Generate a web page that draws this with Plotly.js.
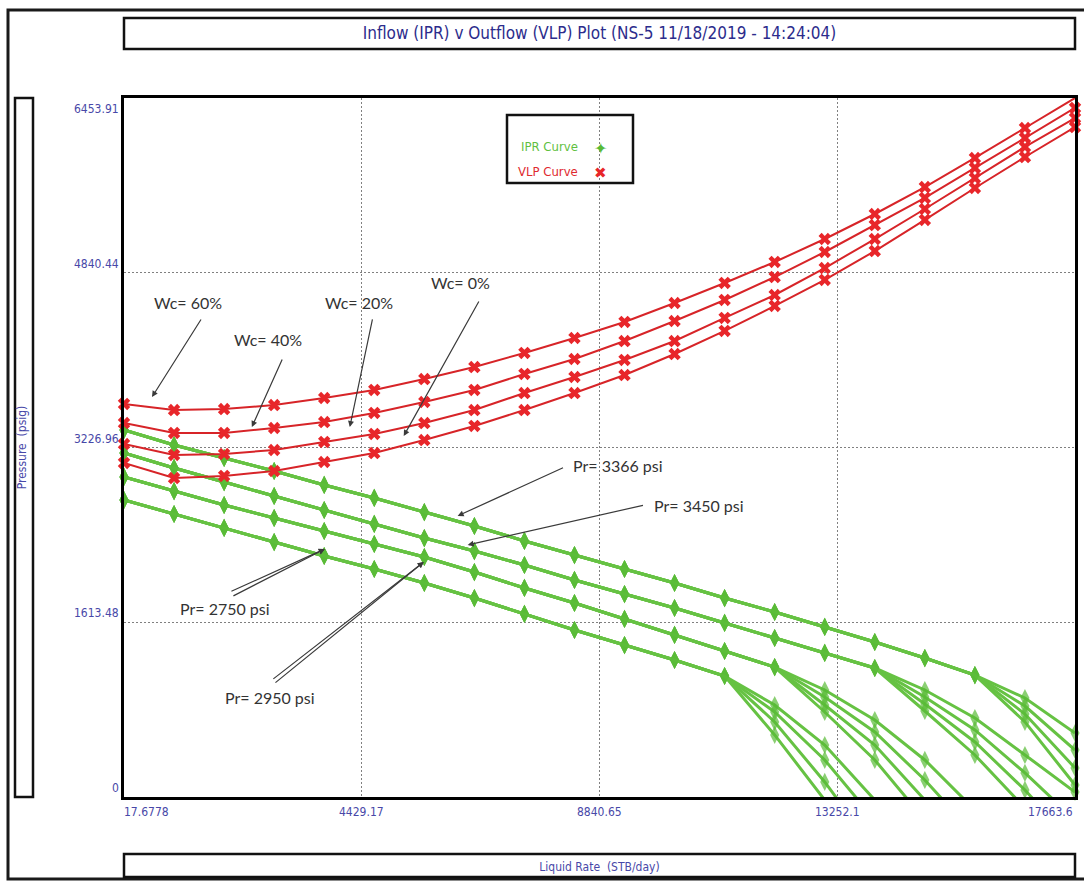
<!DOCTYPE html>
<html><head><meta charset="utf-8">
<script src="https://cdn.plot.ly/plotly-3.0.1.min.js"></script>
<style>html,body{margin:0;padding:0;background:#fff;} #chart{width:1084px;height:882px;}</style>
</head><body><div id="chart"></div>
<script>
// Liquid rate (STB/day) at each computed point
const rate = [17.6778, 946.41, 1875.14, 2803.88, 3732.61, 4661.34, 5590.08, 6518.81, 7447.54, 8376.27,
              9305.01, 10233.74, 11162.47, 12091.21, 13019.94, 13948.67, 14877.41, 15806.14, 16734.87, 17663.6];

// VLP curves (psig) for water cuts
const vlpWc60 = [3629, 3573, 3582, 3619, 3684, 3758, 3859, 3970, 4100, 4238, 4386, 4561, 4746, 4940, 5152, 5383, 5632, 5900, 6177, 6454];
const vlpWc40 = [3453, 3361, 3361, 3407, 3462, 3546, 3647, 3758, 3906, 4044, 4210, 4395, 4589, 4801, 5032, 5281, 5531, 5808, 6085, 6362];
const vlpWc20 = [3259, 3158, 3167, 3204, 3278, 3352, 3453, 3573, 3730, 3878, 4035, 4210, 4423, 4635, 4884, 5152, 5429, 5715, 6002, 6269];
const vlpWc0  = [3084, 2945, 2964, 3010, 3093, 3176, 3296, 3426, 3573, 3730, 3896, 4090, 4303, 4534, 4774, 5041, 5328, 5623, 5909, 6186];

// IPR curves (psig): four reservoir pressures x four water cuts
const iprA_wc60 = [3389, 3250, 3130, 3010, 2881, 2761, 2631, 2502, 2364, 2234, 2105, 1976, 1837, 1708, 1570, 1431, 1283, 1126, 914, 591];
const iprA_wc40 = [3389, 3250, 3130, 3010, 2881, 2761, 2631, 2502, 2364, 2234, 2105, 1976, 1837, 1708, 1570, 1431, 1283, 1126, 840, 434];
const iprA_wc20 = [3389, 3250, 3130, 3010, 2881, 2761, 2631, 2502, 2364, 2234, 2105, 1976, 1837, 1708, 1570, 1431, 1283, 1126, 766, 268];
const iprA_wc0  = [3389, 3250, 3130, 3010, 2881, 2761, 2631, 2502, 2364, 2234, 2105, 1976, 1837, 1708, 1570, 1431, 1283, 1126, 693, 111];

const iprB_wc60 = [3176, 3038, 2908, 2779, 2650, 2521, 2391, 2271, 2142, 2004, 1874, 1745, 1607, 1468, 1330, 1191, 988, 729, 388, 46];
const iprB_wc40 = [3176, 3038, 2908, 2779, 2650, 2521, 2391, 2271, 2142, 2004, 1874, 1745, 1607, 1468, 1330, 1191, 923, 619, 222, -212];
const iprB_wc20 = [3176, 3038, 2908, 2779, 2650, 2521, 2391, 2271, 2142, 2004, 1874, 1745, 1607, 1468, 1330, 1191, 859, 508, 65, -443];
const iprB_wc0  = [3176, 3038, 2908, 2779, 2650, 2521, 2391, 2271, 2142, 2004, 1874, 1745, 1607, 1468, 1330, 1191, 794, 388, -102];

const iprC_wc60 = [2955, 2825, 2696, 2576, 2456, 2336, 2216, 2077, 1930, 1791, 1644, 1496, 1348, 1200, 988, 711, 342, -120];
const iprC_wc40 = [2955, 2825, 2696, 2576, 2456, 2336, 2216, 2077, 1930, 1791, 1644, 1496, 1348, 1200, 923, 600, 157, -351];
const iprC_wc20 = [2955, 2825, 2696, 2576, 2456, 2336, 2216, 2077, 1930, 1791, 1644, 1496, 1348, 1200, 849, 480, -28];
const iprC_wc0  = [2955, 2825, 2696, 2576, 2456, 2336, 2216, 2077, 1930, 1791, 1644, 1496, 1348, 1200, 785, 342, -212];

const iprD_wc60 = [2742, 2613, 2484, 2354, 2225, 2105, 1976, 1837, 1690, 1542, 1403, 1265, 1117, 849, 480, -28];
const iprD_wc40 = [2742, 2613, 2484, 2354, 2225, 2105, 1976, 1837, 1690, 1542, 1403, 1265, 1117, 785, 342, -212];
const iprD_wc20 = [2742, 2613, 2484, 2354, 2225, 2105, 1976, 1837, 1690, 1542, 1403, 1265, 1117, 693, 139, -489];
const iprD_wc0  = [2742, 2613, 2484, 2354, 2225, 2105, 1976, 1837, 1690, 1542, 1403, 1265, 1117, 573, -28];

// Axis ticks
const xTicks = [17.6778, 4429.17, 8840.65, 13252.1, 17663.6];
const xTickText = ['17.6778', '4429.17', '8840.65', '13252.1', '17663.6'];
const yTicks = [0, 1613.48, 3226.96, 4840.44, 6453.91];
const yTickText = ['0', '1613.48', '3226.96', '4840.44', '6453.91'];

// Annotation texts
const wcLabels = ['Wc= 60%', 'Wc= 40%', 'Wc= 20%', 'Wc= 0%'];
const prLabels = ['Pr= 3366 psi', 'Pr= 3450 psi', 'Pr= 2750 psi', 'Pr= 2950 psi'];

const NARROW = '"Liberation Sans Narrow", "Arial Narrow", "DejaVu Sans Condensed", sans-serif';
const BLUE = '#4848a8';
const GREEN_LINE = '#66c243';
const GREEN_MK = '#58ba36';
const RED_LINE = '#d72428';
const RED_MK = '#e8262a';

const W = 1084, H = 882, L = 124, R = 9, T = 98, B = 85;
const PW = W - L - R, PH = H - T - B;
const px = v => (v - L) / PW;          // page px -> paper x
const py = v => (T + PH - v) / PH;     // page px -> paper y

const iprList = [iprA_wc60, iprA_wc40, iprA_wc20, iprA_wc0,
                 iprB_wc60, iprB_wc40, iprB_wc20, iprB_wc0,
                 iprC_wc60, iprC_wc40, iprC_wc20, iprC_wc0,
                 iprD_wc60, iprD_wc40, iprD_wc20, iprD_wc0];
const vlpList = [vlpWc60, vlpWc40, vlpWc20, vlpWc0];

const traces = [];
iprList.forEach((ys, i) => {
  traces.push({
    type: 'scatter', mode: 'lines+markers', name: 'IPR Curve',
    x: rate.slice(0, ys.length), y: ys,
    line: {color: GREEN_LINE, width: 3},
    marker: {symbol: 'diamond-tall', size: ys.map(v => v < 0 ? 0 : 13), color: GREEN_MK, line: {width: 0}},
    cliponaxis: false, showlegend: false, hoverinfo: 'x+y'
  });
});
vlpList.forEach((ys, i) => {
  traces.push({
    type: 'scatter', mode: 'lines+markers', name: 'VLP Curve',
    x: rate, y: ys,
    line: {color: RED_LINE, width: 2},
    marker: {symbol: 'x', size: 11, color: RED_MK, line: {width: 0}},
    cliponaxis: false, showlegend: false, hoverinfo: 'x+y'
  });
});

const ann = [];
// x tick labels
xTicks.forEach((v, i) => {
  ann.push({xref: 'x', yref: 'paper', x: v, y: 0, yanchor: 'top', yshift: -6,
    xanchor: i === 0 ? 'left' : (i === xTicks.length - 1 ? 'right' : 'center'),
    xshift: i === 0 ? -2 : 0,
    text: xTickText[i], showarrow: false, font: {family: NARROW, size: 12, color: BLUE}});
});
// y tick labels
yTicks.forEach((v, i) => {
  const top = i === yTicks.length - 1;
  ann.push({xref: 'paper', yref: 'y', x: 0, y: v, xanchor: 'right', xshift: -3,
    yanchor: top ? 'top' : 'bottom', yshift: top ? -2 : 0,
    text: yTickText[i], showarrow: false, font: {family: NARROW, size: 12, color: BLUE}});
});

// legend (text left, symbol right as in the reference)
ann.push({xref: 'paper', yref: 'paper', x: px(549), y: py(137), text: 'IPR Curve', showarrow: false,
  font: {family: NARROW, size: 13, color: '#5fbf3f'}});
ann.push({xref: 'paper', yref: 'paper', x: px(600), y: py(137), text: '\u2726', showarrow: false,
  font: {family: 'DejaVu Sans', size: 16, color: GREEN_MK}});
ann.push({xref: 'paper', yref: 'paper', x: px(548), y: py(162), text: 'VLP Curve', showarrow: false,
  font: {family: NARROW, size: 13, color: '#e02a2e'}});
ann.push({xref: 'paper', yref: 'paper', x: px(600), y: py(162), text: '\u2716', showarrow: false,
  font: {family: 'DejaVu Sans', size: 15, color: RED_MK}});

// callout texts
const TXT = {family: 'Lato, "Open Sans", sans-serif', size: 16, color: '#333333'};
const wcPos = [[1204, 4570], [2687, 4220], [4374, 4570], [6264, 4755]];
wcLabels.forEach((t, i) => ann.push({x: wcPos[i][0], y: wcPos[i][1], text: t, showarrow: false, font: TXT}));
const prPos = [[9193, 3065], [10694, 2696], [1890, 1745], [2724, 923]];
prLabels.forEach((t, i) => ann.push({x: prPos[i][0], y: prPos[i][1], text: t, showarrow: false, font: TXT}));

// arrows: [headX, headY, tailX, tailY]
const arrows = [
  [537, 3693, 1464, 4423], [2390, 3416, 2965, 4053], [4207, 3416, 4633, 4423], [5208, 3333, 6617, 4589],
  [6209, 2595, 8192, 3047], [6394, 2327, 9675, 2696],
  [3743, 2290, 1983, 1893], [3743, 2290, 2020, 1850],
  [5579, 2170, 2761, 1080], [5579, 2170, 2800, 1045]
];
arrows.forEach(a => ann.push({x: a[0], y: a[1], ax: a[2], ay: a[3], axref: 'x', ayref: 'y',
  text: '', showarrow: true, arrowhead: 2, arrowsize: 1, arrowwidth: 1.2, arrowcolor: '#3a3a3a', standoff: 0}));

const shapes = [
  // outer frame
  {type: 'rect', xref: 'paper', yref: 'paper', x0: px(8), x1: px(1100), y0: py(879), y1: py(10),
   line: {color: '#1a1a1a', width: 3}},
  // title box
  {type: 'rect', xref: 'paper', yref: 'paper', x0: 0, x1: 1, y0: py(49), y1: py(18),
   line: {color: '#111', width: 2.5}},
  // x title box
  {type: 'rect', xref: 'paper', yref: 'paper', x0: 0, x1: 1, y0: py(877), y1: py(854),
   line: {color: '#111', width: 2.5}},
  // y title box
  {type: 'rect', xref: 'paper', yref: 'paper', x0: px(15), x1: px(33), y0: 0, y1: 1,
   line: {color: '#111', width: 2.5}},
  // legend box
  {type: 'rect', xref: 'paper', yref: 'paper', x0: px(507), x1: px(633), y0: py(183), y1: py(115),
   line: {color: '#111', width: 2.5}, fillcolor: 'rgba(255,255,255,0)'}
];

const layout = {
  width: W, height: H,
  margin: {l: L, r: R, t: T, b: B},
  paper_bgcolor: '#ffffff', plot_bgcolor: '#ffffff',
  showlegend: false,
  title: {text: 'Inflow (IPR) v Outflow (VLP) Plot (NS-5 11/18/2019 - 14:24:04)',
    font: {family: NARROW, size: 17, color: '#2c2c8c'},
    x: 0.5, xref: 'paper', xanchor: 'center', y: 1 - 33 / H, yref: 'container', yanchor: 'middle'},
  xaxis: {
    range: [17.6778, 17663.6], tickvals: xTicks, showticklabels: false, ticks: '',
    showgrid: true, gridcolor: '#808080', gridwidth: 1, griddash: '2px,2px',
    zeroline: false, showline: true, linecolor: '#000', linewidth: 3, mirror: true,
    automargin: false,
    title: {text: 'Liquid Rate\u00a0 (STB/day)', font: {family: NARROW, size: 12, color: BLUE}, standoff: 64}
  },
  yaxis: {
    range: [0, 6453.91], tickvals: yTicks, showticklabels: false, ticks: '',
    showgrid: true, gridcolor: '#808080', gridwidth: 1, griddash: '2px,2px',
    zeroline: false, showline: true, linecolor: '#000', linewidth: 3, mirror: true,
    automargin: false,
    title: {text: 'Pressure\u00a0 (psig)', font: {family: NARROW, size: 12, color: BLUE}, standoff: 92}
  },
  annotations: ann,
  shapes: shapes
};

Plotly.newPlot('chart', traces, layout, {displayModeBar: false, staticPlot: true});
</script>
</body></html>
